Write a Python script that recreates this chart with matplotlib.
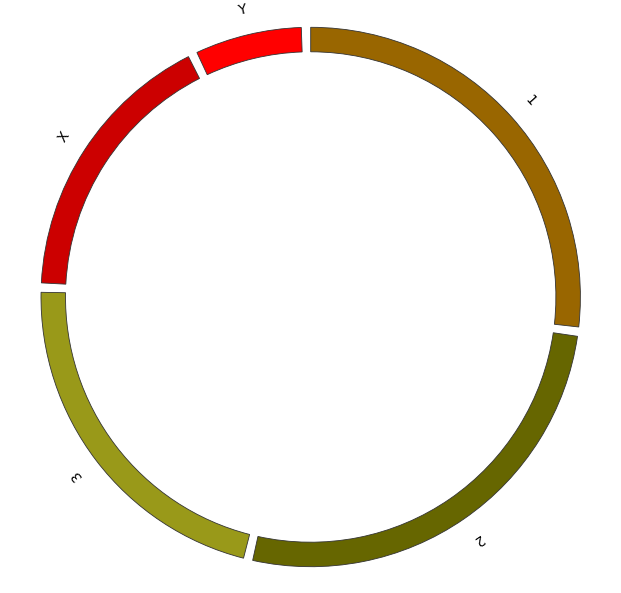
import numpy as np
import matplotlib
matplotlib.use("Agg")
import matplotlib.pyplot as plt
from matplotlib.patches import Wedge

# chromosome ideogram (hg19 lengths, bp)
chrom_names = ['1', '2', '3', 'X', 'Y']
chrom_lengths = [249250621, 243199373, 198022430, 155270560, 59373566]
chrom_colors = ['#996600', '#666600', '#999919', '#cc0000', '#ff0000']

W, H = 621, 593
CX, CY = 310.7, H - 297.0
R_OUT, R_IN = 269.7, 245.2
R_LABEL = 294.5
GAP = 2.0  # degrees between segments


def main():
    fig = plt.figure(figsize=(W / 100, H / 100), dpi=100)
    ax = fig.add_axes([0, 0, 1, 1])
    ax.set_xlim(0, W)
    ax.set_ylim(0, H)
    ax.set_aspect('equal')
    ax.axis('off')

    lengths = np.array(chrom_lengths, dtype=float)
    span = 360.0 - GAP * len(lengths)
    sizes = lengths / lengths.sum() * span

    start = 0.0  # clockwise from 12 o'clock
    for name, size, color in zip(chrom_names, sizes, chrom_colors):
        end = start + size
        w = Wedge((CX, CY), R_OUT, 90 - end, 90 - start, width=R_OUT - R_IN,
                  facecolor=color, edgecolor='#333333', linewidth=0.6)
        ax.add_patch(w)

        mid = np.deg2rad((start + end) / 2)
        lx = CX + R_LABEL * np.sin(mid)
        ly = CY + R_LABEL * np.cos(mid)
        ax.text(lx, ly, name, fontsize=10, color='black',
                rotation=-np.rad2deg(mid), rotation_mode='anchor',
                ha='center', va='center')
        start = end + GAP

    fig.savefig('out.png', dpi=100)


if __name__ == "__main__":
    main()
